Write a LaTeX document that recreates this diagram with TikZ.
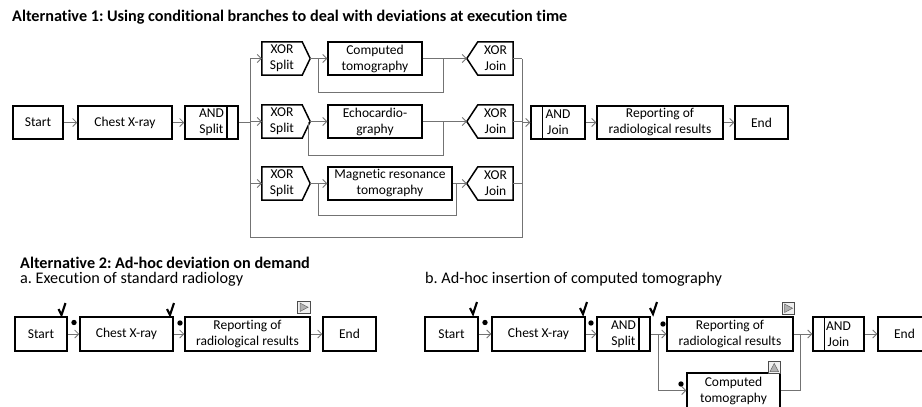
\documentclass[tikz,border=0pt]{standalone}
\usepackage{fontspec}
\setmainfont{Carlito}[Ligatures=NoCommon]
\usetikzlibrary{arrows.meta,calc}
\frenchspacing
\newcommand\boxfont{\fontsize{13.5}{16}\selectfont}
\newcommand\headfont{\fontsize{16.2}{18}\selectfont}
\newcommand\xorsplit[3]{%
  \node[gw] (#1) at (#2,#3) {XOR\\Split};
  \coordinate (#1tip) at ($(#1.east)+(8,0)$);
  \draw[gwline] (#1.north west) -- (#1.north east) -- (#1tip) -- (#1.south east) -- (#1.south west) -- cycle;}
\newcommand\xorjoin[3]{%
  \node[gw,minimum width=35pt] (#1) at (#2,#3) {XOR\\Join};
  \coordinate (#1tip) at ($(#1.west)+(-11,0)$);
  \draw[gwline] (#1.north east) -- (#1.north west) -- (#1tip) -- (#1.south west) -- (#1.south east) -- cycle;}
\newcommand\chk[2]{\draw[line width=2.1pt,line join=miter] (#1-3,#2-6) -- (#1,#2) -- (#1+4,#2-12);}
\newcommand\tok[2]{\fill (#1,#2) circle (2.7pt);}
\newcommand\playbox[2]{% top-left corner
  \draw[draw=black!70,fill=gray!12,line width=0.8pt] (#1,#2) rectangle (#1+12.5,#2+12.5);
  \draw[draw=black!60,fill=gray!60,line width=0.5pt] (#1+2.5,#2+2) -- (#1+10.5,#2+6.25) -- (#1+2.5,#2+10.5) -- cycle;}
\newcommand\upbox[2]{%
  \draw[draw=black!70,fill=gray!12,line width=0.8pt] (#1,#2) rectangle (#1+12.5,#2+12.5);
  \draw[draw=black!60,fill=gray!60,line width=0.5pt] (#1+2,#2+10.5) -- (#1+6.25,#2+2.5) -- (#1+10.5,#2+10.5) -- cycle;}
\begin{document}
\begin{tikzpicture}[x=1pt,y=-1pt,
  box/.style={draw,line width=1.5pt,inner sep=0pt,align=center,font=\boxfont,minimum height=33pt},
  gw/.style={inner sep=0pt,align=center,font=\boxfont,minimum height=33pt,minimum width=40pt},
  gwline/.style={line width=1.5pt,line join=miter},
  conn/.style={draw=black!55,line width=0.8pt},
  arr/.style={conn,-{Straight Barb[length=4pt,width=8pt,line width=0.8pt]}},
  head/.style={anchor=base west,inner sep=0pt,font=\headfont}]
\useasboundingbox (0,0) rectangle (922,407);
\clip (0,0) rectangle (922,407);

% ---------- Titles ----------
\node[head,font=\headfont\bfseries] (t1) at (12,21.5) {Alternative 1: Using conditional branches to deal with deviations at execution time};
\node[head,font=\headfont\bfseries] (t2) at (20,268.5) {Alternative 2: Ad-hoc deviation on demand};
\node[head] (t2a) at (20,283) {a. Execution of standard radiology};
\node[head] (t2b) at (425,283) {b. Ad-hoc insertion of computed tomography};

% ---------- Alternative 1 ----------
\node[box,minimum width=50pt] (s1) at (38,122.5) {Start};
\node[box,minimum width=94pt] (cx1) at (125,122.5) {Chest X-ray};
\node[box,minimum width=53pt] (as1) at (211.5,122.5) {AND\\Split};
\draw[line width=1.5pt] ($(as1.north east)+(-12,0)$) -- ($(as1.south east)+(-12,0)$);

\xorsplit{xs1}{282}{58.5}
\xorsplit{xs2}{282}{121.5}
\xorsplit{xs3}{282}{183.5}

\node[box,minimum width=94pt] (ct1) at (375,58.5) {Computed\\tomography};
\node[box,minimum width=94pt] (ec1) at (375,121.5) {Echocardio-\\graphy};
\node[box,minimum width=124pt] (mr1) at (390,183.5) {Magnetic resonance\\tomography};

\xorjoin{xj1}{495.5}{58.5}
\xorjoin{xj2}{495.5}{121.5}
\xorjoin{xj3}{495.5}{183.5}

\node[box,minimum width=54pt] (aj1) at (558,122.5) {AND\\Join};
\draw[line width=1.5pt] ($(aj1.north west)+(12,0)$) -- ($(aj1.south west)+(12,0)$);
\node[box,minimum width=126pt] (rp1) at (660,122.5) {Reporting of\\radiological results};
\node[box,minimum width=53pt] (en1) at (761.5,122.5) {End};

\coordinate (sp) at (250,122.5);
\coordinate (spt) at (250,58.5);
\coordinate (spb) at (250,237);
\coordinate (jn) at (522,122.5);
\coordinate (jnt) at (522,58.5);
\coordinate (jnb) at (522,237);

\draw[arr] (s1) -- (cx1);
\draw[arr] (cx1) -- (as1);
\draw[conn] (as1.east) -- (sp);
\draw[conn] (spt) -- (spb) -- (jnb) -- (jnt);
\draw[arr] (spt) -- (xs1.west);
\draw[arr] (sp |- xs2.west) -- (xs2.west);
\draw[arr] (sp |- xs3.west) -- (xs3.west);

% row 1
\coordinate (l1a) at (318,58.5);
\coordinate (l1b) at (443,58.5);
\draw[conn] (xs1tip) -- (l1a);
\draw[arr] (l1a) -- (ct1.west);
\draw[conn] (l1a) -- (318,92) -- (443,92) -- (l1b);
\draw[arr] (ct1.east) -- (xj1tip);
% row 2
\coordinate (l2a) at (308,121.5);
\coordinate (l2b) at (443,121.5);
\draw[arr] (xs2tip) -- (ec1.west);
\draw[conn] (l2a) -- (308,155) -- (443,155) -- (l2b);
\draw[arr] (ec1.east) -- (xj2tip);
% row 3
\coordinate (l3a) at (318,183.5);
\coordinate (l3b) at (456,183.5);
\draw[conn] (xs3tip) -- (l3a);
\draw[arr] (l3a) -- (mr1.west);
\draw[conn] (l3a) -- (318,215) -- (456,215) -- (l3b);
\draw[arr] (mr1.east) -- (xj3tip);

\draw[conn] (xj1.east) -- (jnt);
\draw[conn] (xj2.east) -- (xj2.east -| jn);
\draw[conn] (xj3.east) -- (xj3.east -| jn);
\draw[arr] (jn) -- (aj1.west);
\draw[arr] (aj1) -- (rp1);
\draw[arr] (rp1) -- (en1);

% ---------- Alternative 2a ----------
\node[box,minimum width=52pt,minimum height=34pt] (s2) at (41,334) {Start};
\node[box,minimum width=93pt,minimum height=34pt] (cx2) at (126.5,334) {Chest X-ray};
\node[box,minimum width=125pt,minimum height=34pt] (rp2) at (247.5,334) {Reporting of\\radiological results};
\node[box,minimum width=53pt,minimum height=34pt] (en2) at (349.5,334) {End};
\draw[arr] (s2) -- (cx2);
\draw[arr] (cx2) -- (rp2);
\draw[arr] (rp2) -- (en2);
\chk{61.5}{315}
\chk{170}{315}
\tok{74}{322.5}
\tok{180}{323}
\playbox{297.5}{301}

% ---------- Alternative 2b ----------
\node[box,minimum width=53pt,minimum height=34pt] (s3) at (451.5,334) {Start};
\node[box,minimum width=93pt,minimum height=34pt] (cx3) at (538.5,334) {Chest X-ray};
\node[box,minimum width=53pt,minimum height=34pt] (as3) at (623.5,334) {AND\\Split};
\draw[line width=1.5pt] ($(as3.north east)+(-12,0)$) -- ($(as3.south east)+(-12,0)$);
\node[box,minimum width=126pt,minimum height=34pt] (rp3) at (730,334) {Reporting of\\radiological results};
\node[box,minimum width=51pt,minimum height=34pt] (aj3) at (838.5,334) {AND\\Join};
\draw[line width=1.5pt] ($(aj3.north west)+(12,0)$) -- ($(aj3.south west)+(12,0)$);
\node[box,minimum width=53pt,minimum height=34pt] (en3) at (904.5,334) {End};
\node[box,minimum width=93pt,minimum height=35pt] (ct3) at (733.5,390.5) {Computed\\tomography};

\coordinate (b1) at (658,334);
\coordinate (b2) at (800,334);
\draw[arr] (s3) -- (cx3);
\draw[arr] (cx3) -- (as3);
\draw[conn] (as3.east) -- (b1);
\draw[arr] (b1) -- (rp3.west);
\draw[arr] (b1) |- (ct3.west);
\draw[conn] (rp3.east) -- (b2);
\draw[conn] (ct3.east) -| (b2);
\draw[arr] (b2) -- (aj3.west);
\draw[arr] (aj3) -- (en3);
\chk{473}{314}
\chk{583}{314}
\chk{653}{314}
\tok{485}{322.5}
\tok{591}{323}
\tok{663}{324}
\tok{681}{384}
\playbox{782}{302}
\upbox{768}{361}
\end{tikzpicture}
\end{document}
